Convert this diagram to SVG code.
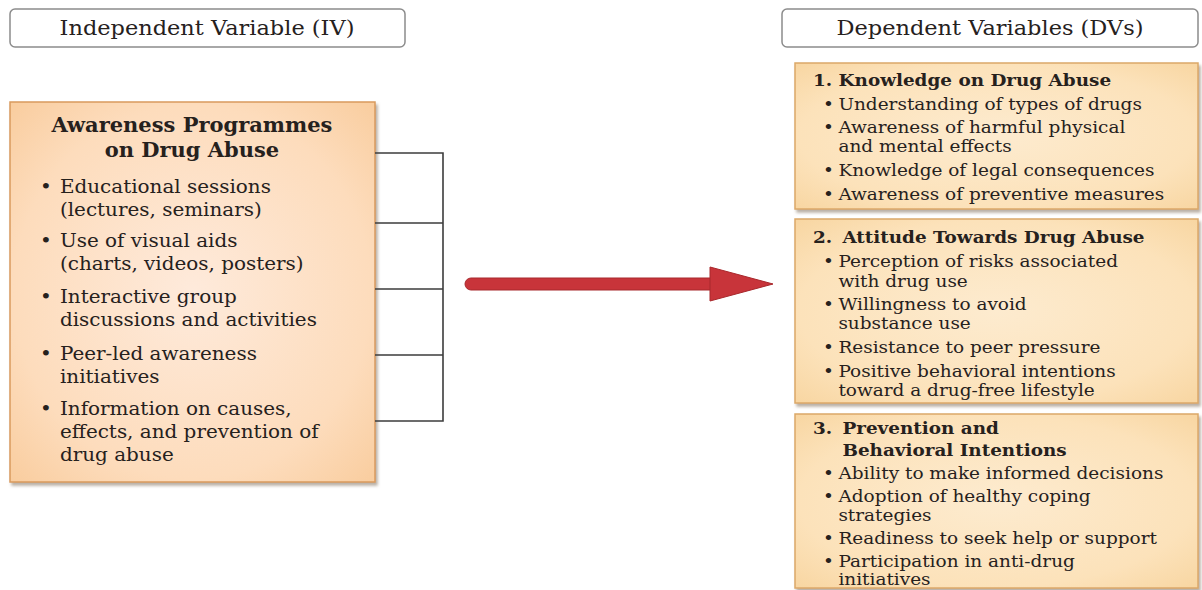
<svg xmlns="http://www.w3.org/2000/svg" width="1202" height="590" viewBox="0 0 1202 590">
<defs>
<radialGradient id="gl" cx="50%" cy="50%" r="70%">
<stop offset="0" stop-color="#feeadb"/>
<stop offset="0.7" stop-color="#fddcbc"/>
<stop offset="1" stop-color="#f9cd9f"/>
</radialGradient>
<radialGradient id="gr" cx="50%" cy="50%" r="70%">
<stop offset="0" stop-color="#fdebcf"/>
<stop offset="0.7" stop-color="#fce2ba"/>
<stop offset="1" stop-color="#f8d6a2"/>
</radialGradient>
<filter id="sh" x="-5%" y="-5%" width="112%" height="112%">
<feDropShadow dx="2" dy="3" stdDeviation="1.5" flood-color="#8a7a6a" flood-opacity="0.6"/>
</filter>
</defs>
<style>
text{font-family:"DejaVu Serif","Liberation Serif",serif;fill:#26211d}
.hd{font-size:21px}
.lt{font-size:20px;font-weight:bold;text-anchor:middle}
.lb{font-size:19px}
.rt{font-size:17.5px;font-weight:bold}
.rb{font-size:16.8px}
.hbox{fill:#fff;stroke:#8c8c8c;stroke-width:1.5}
.lbox{fill:url(#gl);stroke:#d99a5e;stroke-width:1.5}
.rbox{fill:url(#gr);stroke:#dca868;stroke-width:1.5}
.conn{fill:none;stroke:#3c3c3c;stroke-width:1.6}
</style>
<rect width="1202" height="590" fill="#ffffff"/>

<g id="iv-header">
<rect class="hbox" x="10" y="9" width="395" height="38" rx="5"/>
<g transform="translate(207 0) scale(1.07 1) translate(-207 0)">
<text class="hd" x="207" y="35" text-anchor="middle">Independent Variable (IV)</text>
</g>
</g>

<g id="dv-header">
<rect class="hbox" x="782" y="9" width="416" height="38" rx="5"/>
<g transform="translate(990 0) scale(1.07 1) translate(-990 0)">
<text class="hd" x="990" y="35" text-anchor="middle">Dependent Variables (DVs)</text>
</g>
</g>

<g id="iv-box">
<rect class="lbox" x="10" y="102" width="365" height="380" filter="url(#sh)"/>
<g transform="translate(192 0) scale(1.05 1) translate(-192 0)">
<text class="lt" x="192" y="132">Awareness Programmes</text>
<text class="lt" x="192" y="157">on Drug Abuse</text>
</g>
<g transform="translate(40 0) scale(1.05 1) translate(-40 0)">
<text class="lb" x="40" y="193">•</text><text class="lb" x="59" y="193">Educational sessions</text>
<text class="lb" x="59" y="216">(lectures, seminars)</text>
<text class="lb" x="40" y="247">•</text><text class="lb" x="59" y="247">Use of visual aids</text>
<text class="lb" x="59" y="270">(charts, videos, posters)</text>
<text class="lb" x="40" y="303">•</text><text class="lb" x="59" y="303">Interactive group</text>
<text class="lb" x="59" y="326">discussions and activities</text>
<text class="lb" x="40" y="360">•</text><text class="lb" x="59" y="360">Peer-led awareness</text>
<text class="lb" x="59" y="383">initiatives</text>
<text class="lb" x="40" y="415">•</text><text class="lb" x="59" y="415">Information on causes,</text>
<text class="lb" x="59" y="438">effects, and prevention of</text>
<text class="lb" x="59" y="461">drug abuse</text>
</g>
</g>

<g id="connectors">
<path class="conn" d="M375 153 H443 V421 H375 M375 223 H443 M375 289 H443 M375 355 H443"/>
<g id="main-arrow">
<path d="M471 278 H712 V290 H471 A6 6 0 0 1 471 278 Z" fill="#c8343a" stroke="#a8282c" stroke-width="1"/>
<polygon points="710,267 773,284 710,301" fill="#c8343a" stroke="#a8282c" stroke-width="1" stroke-linejoin="round"/>
</g>
</g>

<g id="dv-knowledge">
<rect class="rbox" x="795" y="63" width="403" height="146" filter="url(#sh)"/>
<g transform="translate(813 0) scale(1.05 1) translate(-813 0)">
<text class="rt" x="813" y="86">1. Knowledge on Drug Abuse</text>
</g>
<g transform="translate(823 0) scale(1.1 1) translate(-823 0)">
<text class="rb" x="823" y="110">•</text><text class="rb" x="837" y="110">Understanding of types of drugs</text>
<text class="rb" x="823" y="133">•</text><text class="rb" x="837" y="133">Awareness of harmful physical</text>
<text class="rb" x="837" y="152">and mental effects</text>
<text class="rb" x="823" y="176">•</text><text class="rb" x="837" y="176">Knowledge of legal consequences</text>
<text class="rb" x="823" y="200">•</text><text class="rb" x="837" y="200">Awareness of preventive measures</text>
</g>
</g>

<g id="dv-attitude">
<rect class="rbox" x="795" y="219" width="403" height="184" filter="url(#sh)"/>
<g transform="translate(813 0) scale(1.05 1) translate(-813 0)">
<text class="rt" x="813" y="243">2.</text><text class="rt" x="841" y="243">Attitude Towards Drug Abuse</text>
</g>
<g transform="translate(823 0) scale(1.1 1) translate(-823 0)">
<text class="rb" x="823" y="267">•</text><text class="rb" x="837" y="267">Perception of risks associated</text>
<text class="rb" x="837" y="287">with drug use</text>
<text class="rb" x="823" y="310">•</text><text class="rb" x="837" y="310">Willingness to avoid</text>
<text class="rb" x="837" y="329">substance use</text>
<text class="rb" x="823" y="353">•</text><text class="rb" x="837" y="353">Resistance to peer pressure</text>
<text class="rb" x="823" y="377">•</text><text class="rb" x="837" y="377">Positive behavioral intentions</text>
<text class="rb" x="837" y="396">toward a drug-free lifestyle</text>
</g>
</g>

<g id="dv-prevention">
<rect class="rbox" x="795" y="414" width="403" height="174" filter="url(#sh)"/>
<g transform="translate(813 0) scale(1.05 1) translate(-813 0)">
<text class="rt" x="813" y="434">3.</text><text class="rt" x="841" y="434">Prevention and</text>
<text class="rt" x="841" y="456">Behavioral Intentions</text>
</g>
<g transform="translate(823 0) scale(1.1 1) translate(-823 0)">
<text class="rb" x="823" y="479">•</text><text class="rb" x="837" y="479">Ability to make informed decisions</text>
<text class="rb" x="823" y="502">•</text><text class="rb" x="837" y="502">Adoption of healthy coping</text>
<text class="rb" x="837" y="521">strategies</text>
<text class="rb" x="823" y="544">•</text><text class="rb" x="837" y="544">Readiness to seek help or support</text>
<text class="rb" x="823" y="567">•</text><text class="rb" x="837" y="567">Participation in anti-drug</text>
<text class="rb" x="837" y="585">initiatives</text>
</g>
</g>
</svg>
